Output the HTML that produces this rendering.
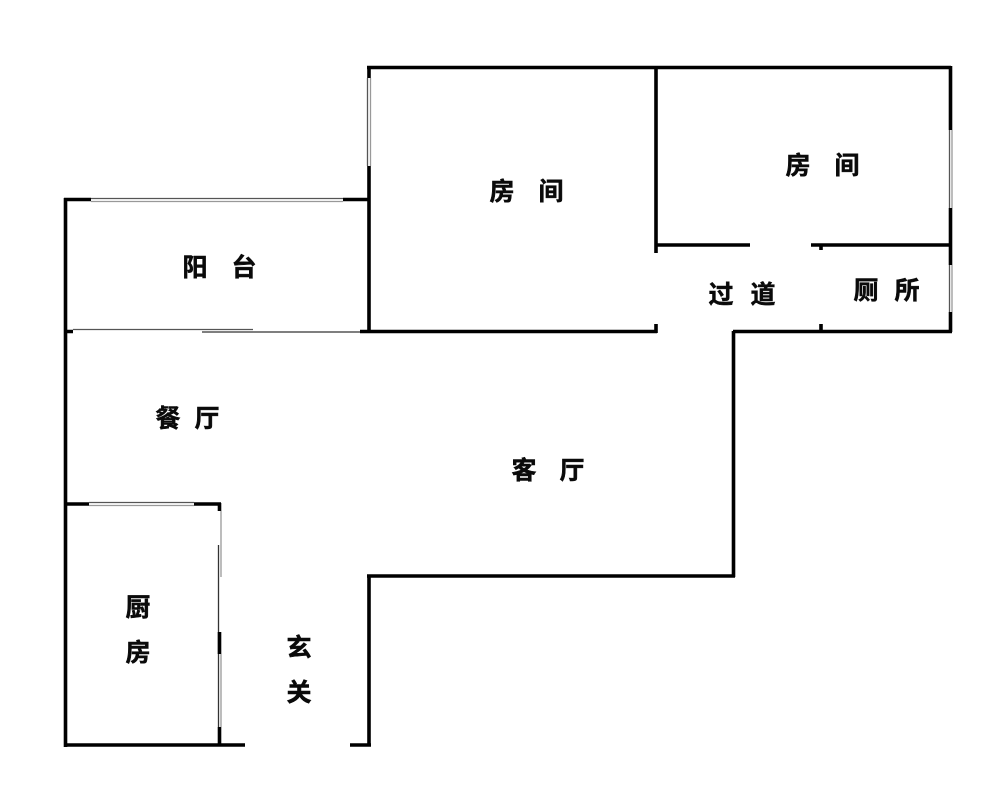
<!DOCTYPE html>
<html><head><meta charset="utf-8"><style>
html,body{margin:0;padding:0;background:#fff}
svg{display:block}
text{font-family:"Liberation Sans","Noto Sans CJK SC",sans-serif;font-weight:700;font-size:25px;fill:#0a0a0a;stroke:#0a0a0a;stroke-width:.5px;text-anchor:middle}
</style></head><body>
<svg width="1000" height="805" viewBox="0 0 1000 805">
<rect width="1000" height="805" fill="#fff"/>
<!-- thin windows -->
<g fill="none" stroke-width="1.3">
<g stroke="#555">
<path d="M91 198.5H343M367.5 78V166M89 502.5H194M73 329.5H253M949.5 130V208M949.5 265V312"/>
</g>
<g stroke="#999">
<path d="M91 201.5H343M370.5 78V166M89 505.5H194M221 511V577M952 130V208M952 265V312M221 654V727"/>
</g>
<path stroke="#333" d="M202 332H360M218.5 545V727"/>
</g>
<!-- thick walls -->
<g fill="none" stroke="#000" stroke-width="3.6">
<path d="M369 166V332M367 67.5H951M369 66V78"/>
<path d="M656 67V253M656 324V333"/>
<path d="M950.5 66V130M950.5 208V265M950.5 312V332"/>
<path d="M656 245H750M811 245H951M821 245V250M821 324V331"/>
<path d="M733 331.5H952M733.5 331V577M367 576H735M369 575V746M350 745H371"/>
<path d="M65.5 198V747M64 199.5H91M343 199.5H369M64 331.5H73M360 331.5H657"/>
<path d="M64 504H89M194 504H221M219.5 503V511M219.5 632V654M219.5 727V745M64 745H245"/>
</g>
<!-- labels -->
<text x="502" y="200">房</text><text x="551" y="200">间</text>
<text x="798" y="174">房</text><text x="847" y="174">间</text>
<text x="195" y="276">阳</text><text x="244" y="276">台</text>
<text x="721" y="303">过</text><text x="763" y="303">道</text>
<text x="866" y="299">厕</text><text x="907" y="299">所</text>
<text x="168" y="427">餐</text><text x="207" y="427">厅</text>
<text x="524" y="479">客</text><text x="572" y="479">厅</text>
<text x="138" y="616">厨</text><text x="138" y="661">房</text>
<text x="299" y="656">玄</text><text x="299" y="701">关</text>
</svg>
</body></html>
